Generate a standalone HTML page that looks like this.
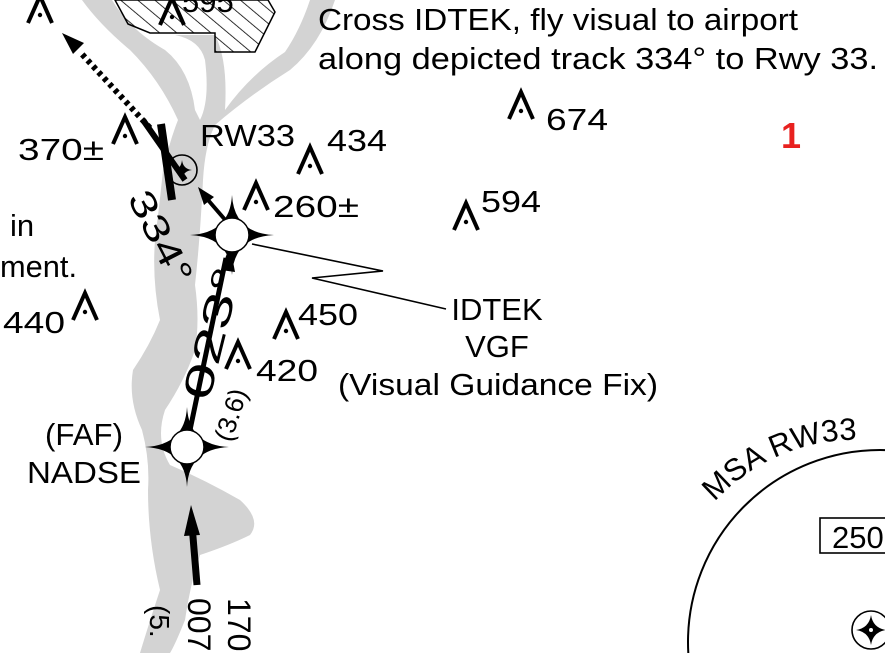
<!DOCTYPE html>
<html><head><meta charset="utf-8"><style>
html,body{margin:0;padding:0;background:#fff;overflow:hidden;width:885px;height:653px;}
svg{display:block;overflow:hidden;font-family:"Liberation Sans",sans-serif;}
</style></head><body>
<svg width="885" height="653" viewBox="0 0 885 653" xmlns="http://www.w3.org/2000/svg">
<defs>
<pattern id="h" width="11" height="11" patternUnits="userSpaceOnUse" patternTransform="rotate(-50)">
<line x1="0" y1="0" x2="0" y2="11" stroke="#000" stroke-width="1.6"/></pattern>
<g id="ob"><path d="M-12,27 L0,0 L12,27" fill="none" stroke="#000" stroke-width="4"/><circle cx="0" cy="19" r="2.2"/></g>
<g id="fix"><path d="M0,-40 Q2,-2 42,0 Q2,2 0,40 Q-2,2 -42,0 Q-2,-2 0,-40Z" fill="#000"/><circle r="17" fill="#fff" stroke="#000" stroke-width="1.5"/></g>
<path id="arc" d="M712,505 A192,192 0 0 1 905,446"/>
<clipPath id="c"><rect width="885" height="653"/></clipPath>
</defs>
<g clip-path="url(#c)">
<g fill="#d3d3d3">
<path d="M82,0 L112,0 Q130,30 165,50 Q190,70 195,110 L200,120 Q210,100 205,60 Q200,40 175,35 L215,35 Q228,60 225,110 Q250,75 285,52 Q300,30 310,0 L335,0 Q320,45 290,70 Q250,95 215,125 Q205,145 203,180 Q200,240 195,285 Q200,320 195,350 Q185,380 165,410 Q155,440 170,465 Q205,480 240,500 Q262,520 250,535 Q230,545 200,555 Q190,585 185,620 Q175,645 170,653 L140,653 Q150,620 160,590 Q148,540 148,490 Q150,460 142,430 Q128,400 133,370 Q150,345 160,320 Q152,280 155,240 Q160,200 163,170 Q170,140 178,120 Q160,80 130,50 Q100,25 82,0Z"/>
</g>
<path d="M115,0 L128,24 L150,33 L215,33 L215,52 L255,52 L275,12 L268,0Z" fill="url(#h)" stroke="#000" stroke-width="1.5"/>
<use href="#ob" x="40" y="-4"/>
<use href="#ob" x="172" y="-2"/>
<use href="#ob" x="125" y="117"/>
<use href="#ob" x="310" y="147"/>
<use href="#ob" x="256" y="183"/>
<use href="#ob" x="466" y="203"/>
<use href="#ob" x="521" y="92"/>
<use href="#ob" x="85" y="293"/>
<use href="#ob" x="286" y="312"/>
<use href="#ob" x="238" y="342"/>
<path d="M161,124 L172,200" stroke="#000" stroke-width="8"/>
<path d="M143,120 L185,180" stroke="#000" stroke-width="6"/>
<path d="M150,128 L80,52" stroke="#000" stroke-width="6" stroke-dasharray="4,4"/>
<path d="M62,33 L84,43 L73,54Z"/>
<circle cx="182" cy="170" r="15" fill="none" stroke="#000" stroke-width="1.6"/>
<path d="M182,160 Q183,169 192,170 Q183,171 182,180 Q181,171 174,170 Q181,169 182,160Z"/>
<path d="M227,222 L208,200" stroke="#000" stroke-width="4"/>
<path d="M198,187 L214,197 L204,205Z"/>
<path d="M190,430 L226,258" stroke="#000" stroke-width="5"/>
<path d="M230,245 L235,272 L221,270Z"/>
<path d="M197,585 L192,525" stroke="#000" stroke-width="7"/>
<path d="M191,505 L200,535 L184,536Z"/>
<path d="M252,244 L383,271 L312,278 L446,309" fill="none" stroke="#000" stroke-width="1.6"/>
<use href="#fix" x="232" y="235"/>
<use href="#fix" x="187" y="447"/>
<g font-size="31" fill="#000">
<text x="318" y="30" textLength="480" lengthAdjust="spacingAndGlyphs">Cross IDTEK, fly visual to airport</text>
<text x="318" y="69" textLength="560" lengthAdjust="spacingAndGlyphs">along depicted track 334° to Rwy 33.</text>
<text x="18" y="160" textLength="86" lengthAdjust="spacingAndGlyphs">370±</text>
<text x="200" y="146" textLength="95" lengthAdjust="spacingAndGlyphs">RW33</text>
<text x="327" y="151" textLength="60" lengthAdjust="spacingAndGlyphs">434</text>
<text x="273" y="217" textLength="86" lengthAdjust="spacingAndGlyphs">260±</text>
<text x="481" y="212" textLength="60" lengthAdjust="spacingAndGlyphs">594</text>
<text x="546" y="130" textLength="62" lengthAdjust="spacingAndGlyphs">674</text>
<text x="10" y="236">in</text>
<text x="0" y="277" textLength="77" lengthAdjust="spacingAndGlyphs">ment.</text>
<text x="3" y="333" textLength="62" lengthAdjust="spacingAndGlyphs">440</text>
<text x="298" y="325" textLength="60" lengthAdjust="spacingAndGlyphs">450</text>
<text x="256" y="381" textLength="62" lengthAdjust="spacingAndGlyphs">420</text>
<text x="182" y="12">595</text>
<text x="45" y="445" textLength="78" lengthAdjust="spacingAndGlyphs">(FAF)</text>
<text x="27" y="483" textLength="114" lengthAdjust="spacingAndGlyphs">NADSE</text>
<text x="497" y="320" text-anchor="middle">IDTEK</text>
<text x="497" y="357" text-anchor="middle">VGF</text>
<text x="338" y="395" textLength="320" lengthAdjust="spacingAndGlyphs">(Visual Guidance Fix)</text>
<text transform="translate(127,198) rotate(63)" font-size="36" textLength="100" lengthAdjust="spacingAndGlyphs">334°</text>
<text transform="translate(209,402) rotate(-76)" font-size="40" textLength="135" lengthAdjust="spacingAndGlyphs">023°</text>
<text transform="translate(231,443) rotate(-72)" font-size="26">(3.6)</text>
<text transform="translate(188,598) rotate(90)" font-size="32">007</text>
<text transform="translate(228,598) rotate(90)" font-size="32">170</text>
<text transform="translate(150,605) rotate(90)" font-size="28">(5.</text>
<text font-size="31"><textPath href="#arc" startOffset="4">MSA RW33</textPath></text>
</g>
<text x="781" y="148" font-size="36" font-weight="bold" fill="#e8211f">1</text>
<circle cx="880" cy="642" r="192" fill="none" stroke="#000" stroke-width="2"/>
<rect x="820" y="518" width="70" height="35" fill="#fff" stroke="#000" stroke-width="1.6"/>
<text x="832" y="548" font-size="31">250</text>
<circle cx="871" cy="630" r="19" fill="none" stroke="#000" stroke-width="1.6"/>
<path d="M871,615 Q873,628 886,630 Q873,632 871,645 Q869,632 856,630 Q869,628 871,615Z"/>
<circle cx="871" cy="630" r="2" fill="#fff"/>
</g>
</svg>
</body></html>
